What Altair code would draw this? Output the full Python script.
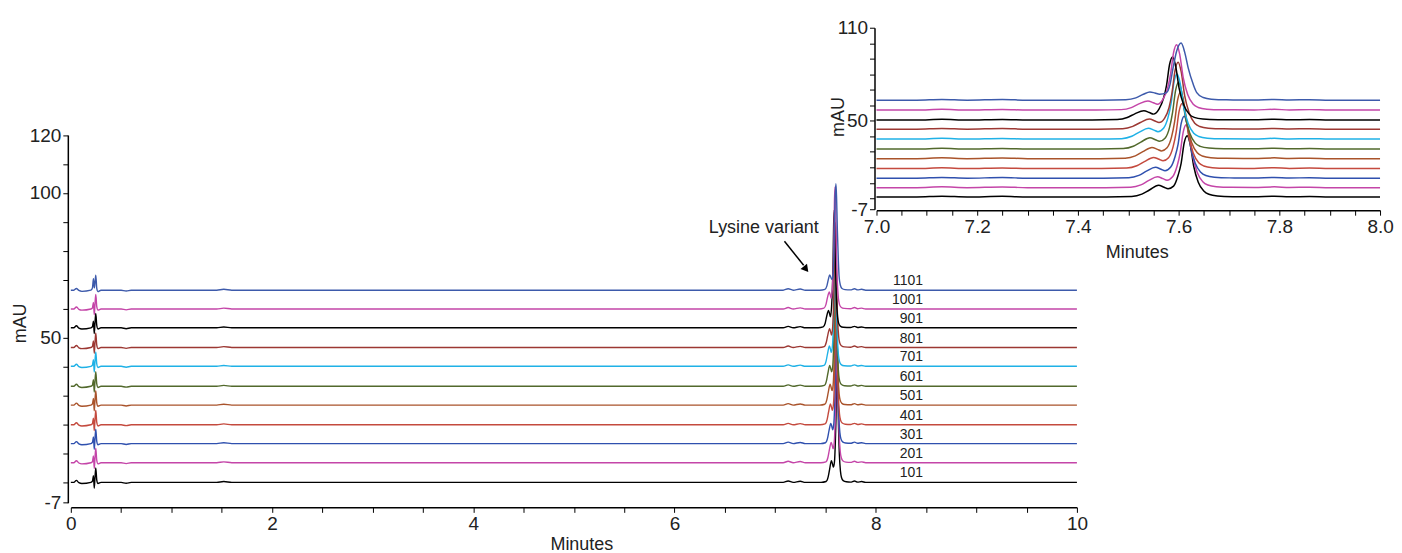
import altair as alt
import pandas as pd

FONT = "Liberation Sans, Arial, sans-serif"

# ---------------- data ----------------
traces = ["101", "201", "301", "401", "501", "601", "701", "801", "901", "1001", "1101"]
colors = ["#000000", "#c445a8", "#2f50ae", "#c44a3e", "#a9532b", "#52692c",
          "#1fb1e6", "#9c3833", "#000000", "#c445a8", "#3d5aab"]

# vertical stacking offsets of the traces (mAU) in each panel
main_baselines = [0, 6.8, 13.4, 19.9, 26.7, 33.2, 40.1, 46.6, 53.4, 59.9, 66.4]
inset_baselines = [0.9, 6.9, 13.0, 19.2, 25.6, 31.8, 38.2, 44.6, 50.5, 56.9, 63.3]

# early part of the run (injection spike) - shared time points
early_times = [0.00, 0.03, 0.055, 0.08, 0.11, 0.20, 0.215, 0.225, 0.233, 0.240,
               0.248, 0.258, 0.27, 0.30, 0.50, 0.55, 0.60, 1.45, 1.52, 1.60, 3.00, 5.00]
early_default = [0, 0, 0.7, -0.1, -0.4, 0, 0.4, 2.3, -2.0, 1.5,
                 5.0, 0.8, -0.4, 0, 0, -0.3, 0, 0, 0.3, 0, 0, 0]
early_1101 = [0, 0, 0.6, -0.1, -0.4, 0, 0.8, 4.0, 0.8, 2.5,
              5.2, 0.6, -0.5, 0, 0, -0.3, 0, 0, 0.3, 0, 0, 0]

pre_times = [7.00, 7.08, 7.13, 7.18, 7.25, 7.30, 7.38]
pre_heights = [0, 0, 0.5, 0, 0.4, 0, 0]
post_times = [7.75, 7.79, 7.82, 7.86, 7.90, 8.00, 10.00]
post_heights = [0.1, 0.5, 0.1, 0.3, 0, 0, 0]

# lysine-variant shoulder + main peak, per trace
peak_times = {
    "101": [7.457, 7.507, 7.527, 7.542, 7.560, 7.571, 7.579, 7.590, 7.599, 7.605, 7.611, 7.617, 7.623, 7.630, 7.639, 7.650, 7.660, 7.677, 7.707],
    "201": [7.455, 7.505, 7.525, 7.540, 7.558, 7.569, 7.577, 7.588, 7.597, 7.603, 7.609, 7.615, 7.621, 7.628, 7.637, 7.648, 7.658, 7.675, 7.705],
    "301": [7.451, 7.501, 7.521, 7.536, 7.554, 7.565, 7.573, 7.584, 7.593, 7.599, 7.605, 7.611, 7.617, 7.624, 7.633, 7.644, 7.654, 7.671, 7.701],
    "401": [7.447, 7.497, 7.517, 7.532, 7.550, 7.561, 7.569, 7.580, 7.589, 7.595, 7.601, 7.607, 7.613, 7.620, 7.629, 7.640, 7.650, 7.667, 7.697],
    "501": [7.444, 7.494, 7.514, 7.529, 7.547, 7.558, 7.566, 7.577, 7.586, 7.592, 7.598, 7.604, 7.610, 7.617, 7.626, 7.637, 7.647, 7.664, 7.694],
    "601": [7.440, 7.490, 7.510, 7.525, 7.543, 7.554, 7.562, 7.573, 7.582, 7.588, 7.594, 7.600, 7.606, 7.613, 7.622, 7.633, 7.643, 7.660, 7.690],
    "701": [7.437, 7.487, 7.507, 7.522, 7.540, 7.551, 7.559, 7.570, 7.579, 7.585, 7.591, 7.597, 7.603, 7.610, 7.619, 7.630, 7.640, 7.657, 7.687],
    "801": [7.439, 7.489, 7.509, 7.524, 7.542, 7.553, 7.561, 7.572, 7.581, 7.587, 7.593, 7.599, 7.605, 7.612, 7.621, 7.632, 7.642, 7.659, 7.689],
    "901": [7.428, 7.478, 7.498, 7.513, 7.531, 7.542, 7.550, 7.561, 7.570, 7.576, 7.582, 7.588, 7.594, 7.601, 7.610, 7.621, 7.631, 7.648, 7.678],
    "1001": [7.436, 7.486, 7.506, 7.521, 7.539, 7.550, 7.558, 7.569, 7.578, 7.584, 7.590, 7.596, 7.602, 7.609, 7.618, 7.629, 7.639, 7.656, 7.686],
    "1101": [7.445, 7.495, 7.515, 7.530, 7.543, 7.553, 7.562, 7.576, 7.583, 7.589, 7.596, 7.605, 7.612, 7.619, 7.629, 7.636, 7.649, 7.665, 7.695],
}
peak_heights = {
    "101": [0, 0.3, 1.8, 4.5, 7.5, 6.3, 5.3, 7.0, 14.0, 21.7, 34.8, 39.5, 34.0, 19.8, 9.5, 3.8, 1.7, 0.6, 0.2],
    "201": [0, 0.3, 1.8, 4.5, 7.0, 5.8, 4.8, 7.0, 14.0, 22.3, 35.6, 40.5, 34.8, 20.3, 9.7, 3.8, 1.7, 0.6, 0.2],
    "301": [0, 0.3, 1.8, 4.5, 7.0, 5.8, 4.8, 7.0, 14.0, 22.0, 35.2, 40.0, 34.4, 20.0, 9.6, 3.8, 1.7, 0.6, 0.2],
    "401": [0, 0.3, 1.8, 4.5, 7.2, 6.0, 5.0, 7.0, 14.0, 23.1, 37.0, 42.0, 36.1, 21.0, 10.1, 3.8, 1.7, 0.6, 0.2],
    "501": [0, 0.3, 1.8, 4.5, 7.2, 6.0, 5.0, 7.0, 14.0, 23.7, 37.8, 43.0, 37.0, 21.5, 10.3, 3.8, 1.7, 0.6, 0.2],
    "601": [0, 0.3, 1.8, 4.5, 7.2, 6.0, 5.0, 7.0, 14.0, 23.7, 37.8, 43.0, 37.0, 21.5, 10.3, 3.8, 1.7, 0.6, 0.2],
    "701": [0, 0.3, 1.8, 4.5, 7.0, 5.8, 4.8, 7.0, 14.0, 23.1, 37.0, 42.0, 36.1, 21.0, 10.1, 3.8, 1.7, 0.6, 0.2],
    "801": [0, 0.3, 1.8, 4.3, 6.5, 5.3, 4.3, 7.0, 14.0, 23.8, 38.0, 43.2, 37.2, 21.6, 10.4, 3.8, 1.7, 0.6, 0.2],
    "901": [0, 0.3, 1.6, 4.0, 6.0, 4.8, 3.8, 7.0, 14.0, 22.4, 35.8, 40.7, 35.0, 20.4, 9.8, 3.8, 1.7, 0.6, 0.2],
    "1001": [0, 0.3, 1.6, 4.0, 5.9, 4.7, 3.7, 7.0, 14.0, 23.2, 37.1, 42.2, 36.3, 21.1, 10.1, 3.8, 1.7, 0.6, 0.2],
    "1101": [0, 0.3, 1.5, 3.8, 5.3, 4.6, 3.8, 4.9, 10.2, 20.8, 31.5, 36.8, 31.0, 20.8, 10.2, 4.9, 1.7, 0.6, 0.2],
}

# axis ticks
main_x_ticks = [0, 0.5, 1, 1.5, 2, 2.5, 3, 3.5, 4, 4.5, 5, 5.5, 6, 6.5, 7, 7.5, 8, 8.5, 9, 9.5, 10]
main_y_ticks = [-7, 0, 10, 20, 30, 40, 50, 60, 70, 80, 90, 100, 110, 120]
main_y_labelled = [120, 100, 50]
inset_x_ticks = [7.0, 7.05, 7.1, 7.15, 7.2, 7.25, 7.3, 7.35, 7.4, 7.45, 7.5,
                 7.55, 7.6, 7.65, 7.7, 7.75, 7.8, 7.85, 7.9, 7.95, 8.0]
inset_y_ticks = [-7, 0, 10, 20, 30, 40, 50, 60, 70, 80, 90, 100, 110]

# ---------------- table ----------------
rows = []
for i, tr in enumerate(traces):
    eh = early_1101 if tr == "1101" else early_default
    ts = early_times + pre_times + peak_times[tr] + post_times
    hs = eh + pre_heights + peak_heights[tr] + post_heights
    for t, h in zip(ts, hs):
        rows.append({"trace": tr, "order": i, "t": t,
                     "y": main_baselines[i] + h, "yi": inset_baselines[i] + h})
df = pd.DataFrame(rows)
labels_df = pd.DataFrame({"trace": traces, "y": main_baselines})
note_df = pd.DataFrame({"text": ["Lysine variant"]})

color = alt.Color("trace:N", scale=alt.Scale(domain=traces, range=colors), legend=None)

# ---------------- main panel ----------------
main_x_scale = alt.Scale(domain=[0, 10], range=[3, 1012], nice=False, zero=False)
main_y_scale = alt.Scale(domain=[-7, 120], range=[476.3, 107.6], nice=False, zero=False)
main_x_axis = alt.Axis(orient="bottom", values=main_x_ticks, title="Minutes",
                       titlePadding=2, titleX=515,
                       labelOverlap=False, labelFlush=False,
                       labelExpr="datum.value % 2 == 0 ? format(datum.value, 'd') : ''")
main_y_axis = alt.Axis(orient="left", values=main_y_ticks, title="mAU",
                       titleX=-38, titleY=296,
                       labelOverlap=False, labelFlush=False,
                       labelExpr="datum.value == -7 ? '-7' : ((datum.value == 120 || datum.value == 100 || datum.value == 50) ? format(datum.value, 'd') : '')")

main_lines = alt.Chart(df).mark_line(strokeWidth=1.4, interpolate="monotone").encode(
    x=alt.X("t:Q", scale=main_x_scale, axis=main_x_axis),
    y=alt.Y("y:Q", scale=main_y_scale, axis=main_y_axis),
    color=color)

trace_labels = alt.Chart(labels_df).mark_text(
    align="right", baseline="middle", dy=-9, fontSize=14, font=FONT, color="#222"
).encode(
    x=alt.XDatum(8.47, type="quantitative", axis=main_x_axis),
    y=alt.Y("y:Q", axis=main_y_axis),
    text="trace:N")

note_text = alt.Chart(note_df).mark_text(
    align="center", baseline="middle", fontSize=18, font=FONT, color="#222"
).encode(
    x=alt.XDatum(6.888, type="quantitative", axis=main_x_axis),
    y=alt.YDatum(88.0, type="quantitative", axis=main_y_axis),
    text="text:N")

note_rule = alt.Chart(note_df).mark_rule(strokeWidth=1.5, color="black").encode(
    x=alt.XDatum(7.093, type="quantitative", axis=main_x_axis),
    y=alt.YDatum(83.3, type="quantitative", axis=main_y_axis),
    x2=alt.X2Datum(7.284), y2=alt.Y2Datum(75.0))

note_head = alt.Chart(note_df).mark_point(
    shape="triangle", filled=True, size=70, angle=141, color="black", opacity=1
).encode(
    x=alt.XDatum(7.300, type="quantitative", axis=main_x_axis),
    y=alt.YDatum(74.0, type="quantitative", axis=main_y_axis))

main_panel = alt.layer(main_lines, trace_labels, note_text, note_rule, note_head)

# ---------------- inset panel ----------------
inset = alt.Chart(df).transform_filter("datum.t >= 7 && datum.t <= 8").mark_line(
    strokeWidth=1.5, interpolate="monotone"
).encode(
    x=alt.X("t:Q",
            scale=alt.Scale(domain=[7, 8], range=[811, 1316], nice=False, zero=False),
            axis=alt.Axis(orient="bottom", offset=-298, values=inset_x_ticks,
                          title="Minutes", titleX=1072, titlePadding=7,
                          labelOverlap=False, labelFlush=False,
                          labelExpr="(abs(datum.value * 10 - round(datum.value * 10)) < 0.01 && round(datum.value * 10) % 2 == 0) ? format(datum.value, '.1f') : ''")),
    y=alt.Y("yi:Q",
            scale=alt.Scale(domain=[-7, 110], range=[182, 0], nice=False, zero=False),
            axis=alt.Axis(orient="left", offset=-809, values=inset_y_ticks,
                          title="mAU", titleX=-27, titleY=89,
                          labelOverlap=False, labelFlush=False,
                          labelExpr="datum.value == -7 ? '-7' : ((datum.value == 110 || datum.value == 50) ? format(datum.value, 'd') : '')")),
    color=color,
)

chart = alt.layer(main_panel, inset).resolve_scale(
    x="independent", y="independent"
).properties(
    width=1316, height=481,
    autosize=alt.AutoSizeParams(type="none"),
    padding={"left": 60, "top": 19, "right": 14, "bottom": 45},
).configure_view(stroke=None).configure_axis(
    grid=False,
    domainColor="black", domainWidth=1.5,
    tickColor="black", tickWidth=1, tickSize=5,
    labelFont=FONT, labelFontSize=19, labelColor="#222",
    labelFlush=False, labelOverlap=False, labelPadding=2,
    titleFont=FONT, titleFontSize=18, titleFontWeight="normal", titleColor="#222",
    titlePadding=2,
)

chart.save("out.html", embed_options={"renderer": "svg", "actions": False})
